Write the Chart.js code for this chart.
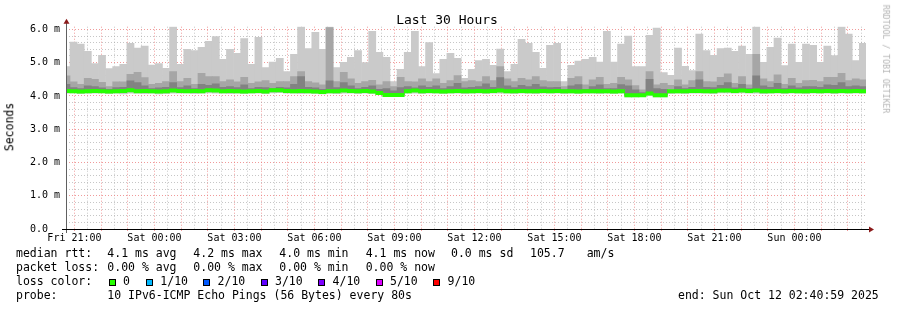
<!DOCTYPE html>
<html>
<head>
<meta charset="utf-8">
<title>Last 30 Hours</title>
<script src="https://cdn.jsdelivr.net/npm/chart.js@4.4.0/dist/chart.umd.min.js"></script>
<style>
  html, body { margin: 0; padding: 0; background: #fff; }
  #wrap { position: relative; width: 897px; height: 310px; overflow: hidden; background: #fff; }
  #chart { position: absolute; left: 0; top: 0; }
  .t { position: absolute; font-family: "DejaVu Sans Mono", monospace; color: #000; white-space: pre; line-height: 1; }
  .box { position: absolute; width: 5px; height: 5px; border: 1px solid #000; }
</style>
</head>
<body>
<div id="wrap">
  <canvas id="chart" width="897" height="310"></canvas>
  <div class="t" id="title" style="left:447px; top:19px; font-size:13px; transform:translate(-50%,-50%);">Last 30 Hours</div>
  <div class="t" style="left:10px; top:127px; font-size:11.5px; transform:translate(-50%,-50%) rotate(-90deg);">Seconds</div>
  <div class="t" style="left:886px; top:59px; font-size:8.2px; color:#b4b4b4; transform:translate(-50%,-50%) rotate(90deg);">RRDTOOL / TOBI OETIKER</div>
  <div id="legend"></div>
</div>
<script>
// smoke graph data, one entry per 16 minute rrd row (first row is cut by the window start)
const rttMin = [4.08, 4.09, 4.07, 4.08, 4.08, 4.09, 4.07, 4.08, 4.06, 4.08, 4.08, 4.07, 4.08, 4.06, 4.07, 4.08, 4.08, 4.09, 4.07, 4.08,
  4.09, 4.08, 4.08, 4.07, 4.08, 4.07, 4.08, 4.08, 4.07, 4.09, 4.10, 4.08, 4.08, 4.07, 4.08, 4.07, 4.06, 4.08, 4.07, 4.08,
  4.08, 4.07, 4.08, 4.07, 4.04, 3.98, 3.98, 3.99, 4.08, 4.08, 4.07, 4.08, 4.08, 4.07, 4.08, 4.08, 4.07, 4.08, 4.08, 4.07,
  4.08, 4.08, 4.08, 4.07, 4.08, 4.08, 4.07, 4.08, 4.08, 4.08, 4.07, 4.08, 4.07, 4.08, 4.08, 4.07, 4.08, 4.07, 4.08, 3.97,
  3.97, 3.98, 4.01, 3.97, 3.97, 4.07, 4.08, 4.07, 4.08, 4.08, 4.08, 4.07, 4.09, 4.09, 4.08, 4.09, 4.08, 4.08, 4.07, 4.08,
  4.08, 4.07, 4.08, 4.08, 4.07, 4.08, 4.08, 4.08, 4.07, 4.08, 4.08, 4.08, 4.08];

const rttMedian = [4.15, 4.14, 4.13, 4.14, 4.15, 4.14, 4.13, 4.14, 4.15, 4.17, 4.14, 4.15, 4.14, 4.13, 4.14, 4.16, 4.15, 4.14, 4.15, 4.14,
  4.17, 4.16, 4.14, 4.15, 4.14, 4.13, 4.14, 4.15, 4.13, 4.17, 4.17, 4.15, 4.14, 4.15, 4.14, 4.13, 4.12, 4.14, 4.14, 4.16,
  4.15, 4.14, 4.15, 4.13, 4.09, 4.03, 4.03, 4.03, 4.14, 4.16, 4.14, 4.15, 4.14, 4.13, 4.14, 4.15, 4.14, 4.14, 4.15, 4.14,
  4.15, 4.16, 4.14, 4.14, 4.15, 4.14, 4.14, 4.15, 4.14, 4.15, 4.14, 4.14, 4.13, 4.14, 4.14, 4.14, 4.14, 4.13, 4.14, 4.02,
  4.02, 4.02, 4.07, 4.02, 4.02, 4.14, 4.14, 4.14, 4.15, 4.15, 4.14, 4.14, 4.16, 4.16, 4.15, 4.16, 4.15, 4.16, 4.14, 4.14,
  4.15, 4.14, 4.15, 4.14, 4.14, 4.15, 4.14, 4.15, 4.14, 4.15, 4.14, 4.15, 4.14];

const rttP8 = [4.35, 4.25, 4.22, 4.30, 4.28, 4.24, 4.20, 4.25, 4.26, 4.45, 4.40, 4.30, 4.22, 4.24, 4.26, 4.40, 4.25, 4.30, 4.22, 4.35,
  4.32, 4.36, 4.26, 4.28, 4.25, 4.33, 4.22, 4.26, 4.25, 4.22, 4.26, 4.24, 4.35, 4.58, 4.26, 4.24, 4.20, 4.45, 4.25, 4.40,
  4.30, 4.22, 4.26, 4.30, 4.20, 4.22, 4.15, 4.25, 4.28, 4.24, 4.30, 4.26, 4.30, 4.22, 4.28, 4.38, 4.24, 4.26, 4.28, 4.36,
  4.26, 4.55, 4.30, 4.25, 4.32, 4.28, 4.35, 4.27, 4.25, 4.26, 4.18, 4.30, 4.34, 4.20, 4.28, 4.33, 4.22, 4.22, 4.34, 4.30,
  4.18, 4.10, 4.50, 4.22, 4.20, 4.16, 4.28, 4.22, 4.26, 4.48, 4.26, 4.25, 4.32, 4.40, 4.24, 4.35, 4.22, 4.60, 4.30, 4.26,
  4.38, 4.22, 4.30, 4.24, 4.28, 4.28, 4.26, 4.33, 4.32, 4.40, 4.28, 4.30, 4.28];

const rttP9 = [4.60, 4.42, 4.35, 4.53, 4.50, 4.41, 4.28, 4.42, 4.42, 4.65, 4.71, 4.55, 4.35, 4.38, 4.43, 4.73, 4.43, 4.53, 4.35, 4.68,
  4.58, 4.58, 4.43, 4.48, 4.42, 4.56, 4.38, 4.42, 4.46, 4.38, 4.43, 4.43, 4.58, 4.73, 4.43, 4.39, 4.33, 6.05, 4.43, 4.71,
  4.51, 4.38, 4.43, 4.47, 4.33, 4.43, 4.28, 4.56, 4.43, 4.42, 4.51, 4.43, 4.51, 4.38, 4.46, 4.61, 4.43, 4.46, 4.43, 4.58,
  4.46, 4.88, 4.51, 4.43, 4.53, 4.48, 4.58, 4.46, 4.43, 4.43, 4.28, 4.53, 4.58, 4.33, 4.48, 4.56, 4.35, 4.38, 4.56, 4.48,
  4.31, 4.18, 4.73, 4.33, 4.38, 4.32, 4.48, 4.33, 4.46, 4.73, 4.43, 4.42, 4.56, 4.66, 4.38, 4.58, 4.33, 5.25, 4.51, 4.43,
  4.63, 4.35, 4.53, 4.38, 4.46, 4.47, 4.43, 4.56, 4.56, 4.68, 4.46, 4.51, 4.48];

const rttMax = [4.88, 5.62, 5.56, 5.34, 4.97, 5.22, 4.82, 4.88, 4.95, 5.58, 5.44, 5.50, 4.93, 4.97, 4.83, 6.08, 4.95, 5.40, 5.36, 5.46,
  5.64, 5.78, 5.10, 5.40, 5.28, 5.72, 4.95, 5.76, 4.85, 5.02, 5.13, 4.73, 5.25, 6.08, 5.42, 5.91, 5.40, 6.08, 4.85, 5.01,
  5.16, 5.36, 5.00, 5.94, 5.31, 5.16, 4.43, 4.80, 5.31, 5.94, 4.88, 5.60, 4.67, 5.10, 5.28, 5.13, 4.53, 4.80, 5.06, 5.10,
  4.92, 5.41, 4.73, 4.95, 5.70, 5.58, 5.31, 4.83, 5.52, 5.58, 4.43, 4.92, 5.05, 5.10, 5.16, 5.02, 5.94, 5.02, 5.56, 5.80,
  4.88, 4.88, 5.82, 6.04, 4.70, 4.62, 5.44, 4.89, 4.76, 5.86, 5.36, 5.22, 5.42, 5.44, 5.34, 5.50, 5.25, 6.08, 5.01, 5.46,
  5.74, 4.91, 5.56, 5.01, 5.56, 5.52, 5.01, 5.50, 5.21, 6.08, 5.86, 5.06, 5.58];

// x axis: hours since window start (Fri 20:40:59), labels every 3 hours starting at Fri 21:00
const tickLabels = ['Fri 21:00', 'Sat 00:00', 'Sat 03:00', 'Sat 06:00', 'Sat 09:00',
  'Sat 12:00', 'Sat 15:00', 'Sat 18:00', 'Sat 21:00', 'Sun 00:00'];
const firstFullHour = 19.017 / 60;
const windowHours = 30;
const rowMinutes = 16;
const firstRowStart = -7; // minutes, the first row begins before the window

const lossColors = ['#26ff00', '#00b8ff', '#0059ff', '#5e00ff', '#7e00ff', '#dd00ff', '#ff0000'];
const lossLabels = ['0', '1/10', '2/10', '3/10', '4/10', '5/10', '9/10'];

const rowTimes = rttMax.map((_, i) => (firstRowStart + i * rowMinutes + rowMinutes / 2) / 60);

function band(lo, hi) {
  return rowTimes.map((t, i) => ({ x: t, y: [lo[i], hi[i]] }));
}
const medianHalf = 0.05;
const medianBand = rowTimes.map((t, i) => ({ x: t, y: [rttMedian[i] - medianHalf, rttMedian[i] + medianHalf] }));

const barDefaults = { grouped: false, barPercentage: 1, categoryPercentage: 1, borderWidth: 0, borderSkipped: false, clip: 0 };

// axis lines + rrdtool arrows
const axisArrows = {
  id: 'axisArrows',
  afterDraw(chart) {
    const { ctx, chartArea: a } = chart;
    ctx.save();
    ctx.lineWidth = 1;
    ctx.strokeStyle = '#606060';
    ctx.beginPath();
    ctx.moveTo(a.left + 0.5, a.top - 4);
    ctx.lineTo(a.left + 0.5, a.bottom + 4);
    ctx.stroke();
    ctx.strokeStyle = '#000';
    ctx.beginPath();
    ctx.moveTo(a.left - 4, a.bottom + 0.5);
    ctx.lineTo(a.right + 4, a.bottom + 0.5);
    ctx.stroke();
    ctx.fillStyle = '#8b1a1a';
    ctx.beginPath();
    ctx.moveTo(a.left - 2.5, a.top - 3);
    ctx.lineTo(a.left + 3.5, a.top - 3);
    ctx.lineTo(a.left + 0.5, a.top - 8);
    ctx.closePath();
    ctx.fill();
    ctx.beginPath();
    ctx.moveTo(a.right + 3, a.bottom - 2.5);
    ctx.lineTo(a.right + 3, a.bottom + 3.5);
    ctx.lineTo(a.right + 8, a.bottom + 0.5);
    ctx.closePath();
    ctx.fill();
    ctx.restore();
  }
};

const majorGrid = 'rgba(235, 120, 120, 0.75)';
const minorGrid = 'rgba(160, 160, 160, 0.6)';
const monoFont = { family: '"DejaVu Sans Mono", monospace', size: 10 };

new Chart(document.getElementById('chart'), {
  type: 'bar',
  data: {
    datasets: [
      Object.assign({ label: 'median', data: medianBand, backgroundColor: lossColors[0], order: 0 }, barDefaults),
      Object.assign({ label: 'smoke 3', data: band(rttMedian, rttP8), backgroundColor: '#828282', order: 1 }, barDefaults),
      Object.assign({ label: 'smoke 2', data: band(rttMedian, rttP9), backgroundColor: '#a6a6a6', order: 2 }, barDefaults),
      Object.assign({ label: 'smoke 1', data: band(rttMin, rttMax), backgroundColor: '#cacaca', order: 3 }, barDefaults)
    ]
  },
  options: {
    responsive: false,
    devicePixelRatio: 1,
    animation: false,
    layout: { padding: { left: 0, right: 31, top: 26.7, bottom: 0 } },
    plugins: { legend: { display: false }, tooltip: { enabled: false } },
    scales: {
      x: {
        type: 'linear',
        min: 0,
        max: windowHours,
        offset: false,
        z: 1,
        afterBuildTicks: axis => {
          const ticks = [];
          for (let v = firstFullHour; v <= windowHours; v += 0.5) ticks.push({ value: v });
          axis.ticks = ticks;
        },
        afterFit: s => { s.height = 81; },
        grid: {
          offset: false,
          color: ctx => (ctx.index % 2 === 0 ? majorGrid : minorGrid),
          tickColor: ctx => (ctx.index % 2 === 0 ? majorGrid : 'rgba(0,0,0,0)'),
          tickLength: 2
        },
        border: { display: false, dash: [1, 2] },
        ticks: {
          autoSkip: false,
          maxRotation: 0,
          padding: 1,
          color: '#000',
          font: monoFont,
          callback: (v, i) => (i % 6 === 0 ? tickLabels[i / 6] : '')
        }
      },
      y: {
        min: 0,
        max: 6.08,
        z: 1,
        afterBuildTicks: axis => {
          const ticks = [];
          for (let n = 0; n <= 30; n++) ticks.push({ value: n / 5 });
          axis.ticks = ticks;
        },
        afterFit: s => { s.width = 66; },
        grid: {
          drawTicks: false,
          color: ctx => (ctx.index % 5 === 0 ? majorGrid : minorGrid)
        },
        border: { display: false, dash: [1, 2] },
        ticks: {
          autoSkip: false,
          padding: 6,
          color: '#000',
          font: monoFont,
          callback: (v, i) => {
            if (i % 5 !== 0) return '';
            return v === 0 ? '0.0  ' : v.toFixed(1) + ' m';
          }
        }
      }
    }
  },
  plugins: [axisArrows]
});

// legend lines under the graph (rrdtool places every item on its own)
const legendItems = [
  [254, 16, 'median rtt:'], [254, 107.3, '4.1 ms avg'], [254, 193.3, '4.2 ms max'], [254, 279.3, '4.0 ms min'],
  [254, 365.7, '4.1 ms now'], [254, 451, '0.0 ms sd'], [254, 530, '105.7'], [254, 586.7, 'am/s'],
  [268, 16, 'packet loss:'], [268, 107.3, '0.00 % avg'], [268, 193.3, '0.00 % max'], [268, 279.3, '0.00 % min'],
  [268, 365.7, '0.00 % now'],
  [282, 16, 'loss color:'],
  [296, 16, 'probe:'], [296, 107.3, '10 IPv6-ICMP Echo Pings (56 Bytes) every 80s'], [296, 678, 'end: Sun Oct 12 02:40:59 2025']
];
const lossBoxX = [108.7, 146, 203.3, 260.7, 318.3, 375.7, 433.3];

const legend = document.getElementById('legend');
legendItems.forEach(([y, x, text]) => {
  const d = document.createElement('div');
  d.className = 't';
  d.style.cssText = `left:${x}px; top:${y}px; font-size:11.5px; transform:translateY(-50%);`;
  d.textContent = text;
  legend.appendChild(d);
});
lossLabels.forEach((label, i) => {
  const b = document.createElement('div');
  b.className = 'box';
  b.style.cssText = `left:${lossBoxX[i]}px; top:278.7px; background:${lossColors[i]};`;
  legend.appendChild(b);
  const d = document.createElement('div');
  d.className = 't';
  d.style.cssText = `left:${lossBoxX[i] + 14.3}px; top:282px; font-size:11.5px; transform:translateY(-50%);`;
  d.textContent = label;
  legend.appendChild(d);
});
</script>
</body>
</html>
